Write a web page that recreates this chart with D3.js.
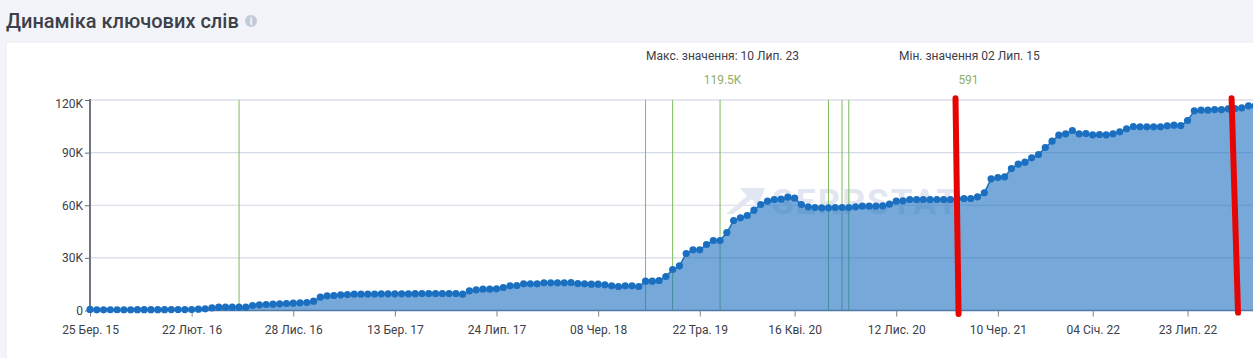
<!DOCTYPE html>
<html>
<head>
<meta charset="utf-8">
<script src="https://cdn.jsdelivr.net/npm/d3@7"></script>
<style>
  html, body { margin: 0; padding: 0; background: #f2f4f9; overflow: hidden; }
  text { font-family: Roboto, sans-serif; }
</style>
</head>
<body>
<div id="chart"></div>
<script>
// keyword counts, one per period
const keywordCounts = [
  591, 400, 400, 420, 420, 430, 440, 450, 450, 470, 480, 490, 500, 520, 540, 570,
  760, 950, 1520, 1900, 1900, 1900, 1900, 1900, 2850, 3230, 3420, 3610, 3800, 3990, 4180, 4370,
  4560, 5320, 7600, 8360, 8550, 8930, 9120, 9310, 9310, 9400, 9400, 9500, 9500, 9500, 9500, 9500,
  9600, 9690, 9690, 9690, 9690, 9690, 9690, 9310, 11210, 11780, 12160, 12160, 12350, 13110, 14060, 14250,
  15200, 15200, 15200, 15770, 15770, 15770, 15770, 15960, 15390, 15200, 15010, 15010, 14630, 14060, 13680, 14060,
  14060, 13680, 16720, 16720, 17100, 19380, 23370, 25460, 32490, 34580, 34580, 37620, 39900, 39900, 44460, 51300,
  52820, 54150, 57190, 60420, 62320, 63270, 63460, 64600, 64030, 60420, 59090, 58710, 58520, 58520, 58710, 58710,
  58710, 59090, 59470, 59470, 59470, 59660, 60610, 62320, 62510, 63270, 63270, 63270, 63270, 63270, 63270, 63270,
  63650, 63840, 63840, 64790, 67070, 75050, 75810, 76190, 80940, 83410, 84550, 87020, 88920, 92910, 96520, 99940,
  100700, 102600, 100700, 100890, 100130, 100320, 100130, 100700, 101840, 103550, 104880, 104690, 104690, 104690, 104690, 105260,
  105640, 105450, 108300, 113810, 114190, 114190, 114570, 114570, 114950, 115140, 115520, 116660, 116660
];

// x axis labels and the period each one belongs to
const dateLabels = ["25 Бер. 15", "22 Лют. 16", "28 Лис. 16", "13 Бер. 17", "24 Лип. 17", "08 Чер. 18",
  "22 Тра. 19", "16 Кві. 20", "12 Лис. 20", "10 Чер. 21", "04 Січ. 22", "23 Лип. 22"];
const dateIndexes = [0, 15, 30, 45, 60, 75, 90, 104, 119, 134, 148, 162];

const yTicks = [0, 30000, 60000, 90000, 120000];
const yTickLabels = ["0", "30K", "60K", "90K", "120K"];

// periods with a green marker line
const eventIndexes = [22, 82, 86, 93, 109, 111, 112];

// the two red strokes drawn over the screenshot: [period, value] at each end
const redStrokes = [
  [[127.75, 121000], [128.2, -2000]],
  [[168.5, 121000], [169.45, -1200]]
];

const width = 1253, height = 358;

const svg = d3.select("#chart").append("svg")
  .attr("width", width)
  .attr("height", height)
  .style("display", "block");

const x = d3.scaleLinear().domain([0, 172]).range([90, 1255.3]);
const y = d3.scaleLinear().domain([0, 120000]).range([310.5, 100]);

// card
svg.append("rect")
  .attr("x", 6).attr("y", 42)
  .attr("width", width).attr("height", height)
  .attr("fill", "#fff")
  .attr("stroke", "#e9ecf4");

// title
svg.append("text")
  .attr("x", 6).attr("y", 28)
  .attr("font-size", 20)
  .attr("font-weight", 500)
  .attr("fill", "#3c4049")
  .text("Динаміка ключових слів");

const info = svg.append("g").attr("transform", "translate(251,21)");
info.append("circle").attr("r", 6).attr("fill", "#c3cbd9");
info.append("text")
  .attr("text-anchor", "middle").attr("y", 4)
  .attr("font-size", 10).attr("font-weight", 700)
  .attr("fill", "#fff")
  .text("i");

// max / min captions
function caption(px, py, str, color, anchor) {
  svg.append("text")
    .attr("x", px).attr("y", py)
    .attr("font-size", 12)
    .attr("text-anchor", anchor)
    .attr("fill", color)
    .text(str);
}
caption(646, 60, "Макс. значення: 10 Лип. 23", "#3c4049", "start");
caption(722.5, 84, "119.5K", "#8fae6a", "middle");
caption(899, 60, "Мін. значення 02 Лип. 15", "#3c4049", "start");
caption(968.5, 84, "591", "#8fae6a", "middle");

// y axis with grid
const yAxis = svg.append("g")
  .attr("transform", "translate(90,0)")
  .call(d3.axisLeft(y).tickValues(yTicks).tickSize(5).tickFormat((d, i) => yTickLabels[i]));
yAxis.select(".domain").remove();
yAxis.selectAll("line").attr("stroke", "#666c78");
yAxis.selectAll("text")
  .attr("font-family", "Roboto, sans-serif")
  .attr("font-size", 12)
  .attr("fill", "#3c4049")
  .attr("x", -7)
  // the top label sits a little below its tick
  .attr("y", d => d === 120000 ? 4 : 0);

svg.append("g").selectAll("line")
  .data(yTicks.filter(d => d > 0))
  .enter().append("line")
  .attr("x1", 90).attr("x2", width)
  .attr("y1", d => y(d)).attr("y2", d => y(d))
  .attr("stroke", d => d === 120000 ? "#e3e6ef" : "#d3d9e6")
  .attr("stroke-width", d => d === 120000 ? 2 : 1.2);

// watermark, sits behind the area
svg.append("path")
  .attr("d", "M740 188H765L757 208L752 199L733 214H726L747 196Z")
  .attr("fill", "#e2e6f1");
svg.append("text")
  .attr("x", 772).attr("y", 214)
  .attr("font-size", 35)
  .attr("font-weight", 700)
  .attr("letter-spacing", 2.2)
  .attr("fill", "#e2e6f1")
  .text("SERPSTAT");

// green markers
svg.append("g").selectAll("line")
  .data(eventIndexes)
  .enter().append("line")
  .attr("x1", d => x(d)).attr("x2", d => x(d))
  .attr("y1", y(120000)).attr("y2", y(0))
  .attr("stroke", "#7dbb5e")
  .attr("stroke-width", 1);

// area, line, dots
const area = d3.area()
  .x((d, i) => x(i))
  .y0(y(0))
  .y1(d => y(d));
const line = d3.line()
  .x((d, i) => x(i))
  .y(d => y(d));

svg.append("path")
  .datum(keywordCounts)
  .attr("d", area)
  .attr("fill", "#1a6fc0")
  .attr("fill-opacity", 0.6);

svg.append("path")
  .datum(keywordCounts)
  .attr("d", line)
  .attr("fill", "none")
  .attr("stroke", "#1a6fc0")
  .attr("stroke-width", 1.5);

// x axis
const xAxis = svg.append("g")
  .attr("transform", "translate(0," + y(0) + ")")
  .call(d3.axisBottom(x).tickValues(dateIndexes).tickSize(6).tickFormat((d, i) => dateLabels[i]));
xAxis.select(".domain")
  .attr("d", "M90,0H" + width)
  .attr("stroke", "#4f7aa8")
  .attr("stroke-width", 1.5);
xAxis.selectAll("line").attr("stroke", "#7b808a");
xAxis.selectAll("text")
  .attr("font-family", "Roboto, sans-serif")
  .attr("font-size", 12)
  .attr("fill", "#3c4049")
  .attr("y", 15);

// left axis line
svg.append("line")
  .attr("x1", 90).attr("x2", 90)
  .attr("y1", y(120000) - 1).attr("y2", y(0))
  .attr("stroke", "#6e7480")
  .attr("stroke-width", 2);

svg.append("g").selectAll("circle")
  .data(keywordCounts)
  .enter().append("circle")
  .attr("cx", (d, i) => x(i))
  .attr("cy", d => y(d))
  .attr("r", 3.6)
  .attr("fill", "#1a6fc0");

// red strokes on top of everything
svg.append("g").selectAll("line")
  .data(redStrokes)
  .enter().append("line")
  .attr("x1", d => x(d[0][0])).attr("y1", d => y(d[0][1]))
  .attr("x2", d => x(d[1][0])).attr("y2", d => y(d[1][1]))
  .attr("stroke", "#e60505")
  .attr("stroke-width", 6)
  .attr("stroke-linecap", "round");
</script>
</body>
</html>
